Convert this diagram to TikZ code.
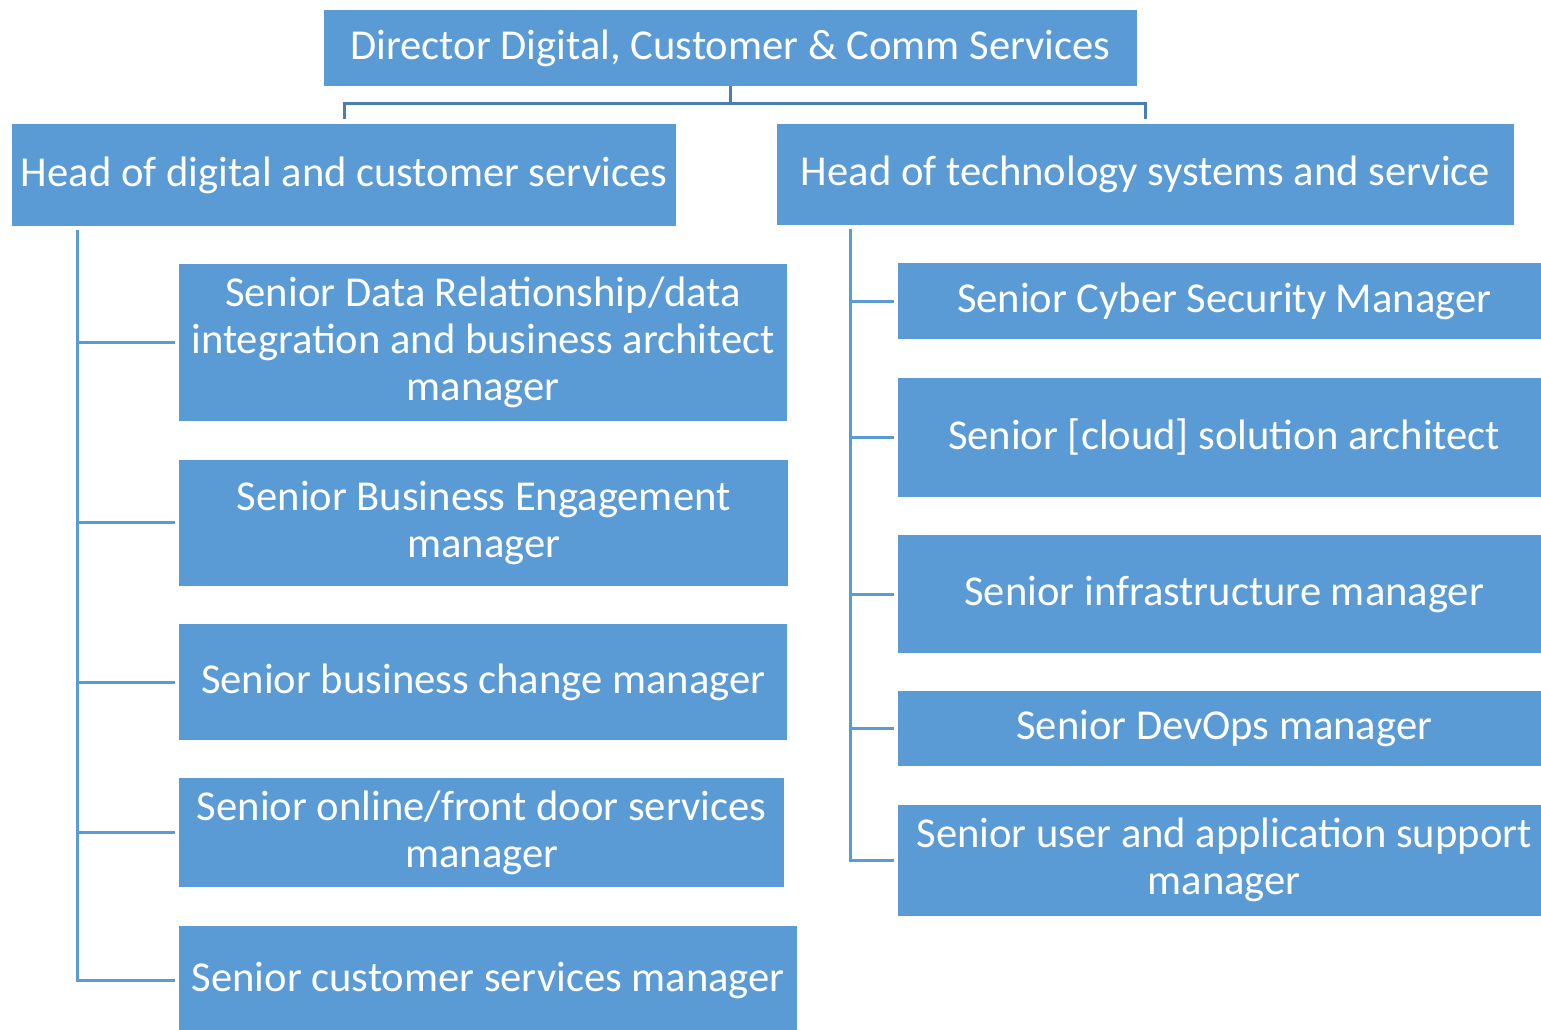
\documentclass[tikz,border=0pt]{standalone}
\usepackage{fontspec}
\setmainfont{Carlito}
\usetikzlibrary{positioning}
\definecolor{boxblue}{HTML}{5B9BD5}
\definecolor{linkblue}{HTML}{4A7DB0}

\begin{document}
\begin{tikzpicture}[x=1pt, y=-1pt, node distance={38pt},
    box/.style = {rectangle, fill=boxblue, text=white, align=center, inner sep=0pt, font=\fontsize{42.6}{47}\selectfont},
    lkid/.style = {box, minimum width=608pt, anchor=north west},
    rkid/.style = {box, minimum width=652pt, anchor=north west},
    topline/.style = {draw=linkblue, line width=3pt},
    treeline/.style = {draw=boxblue, line width=3pt}]
            \useasboundingbox (0,0) rectangle (1541,1030);

            % Nodes
            \node[box, minimum width=813pt, minimum height=76pt] (dir) at (730.5,48) {Director Digital, Customer \& Comm Services};
            \node[box, minimum width=664pt, minimum height=102pt] (hl) at (344,175) {Head of digital and customer services};
            \node[box, minimum width=737pt, minimum height=101pt] (hr) at (1145.5,174.5) {Head of technology systems and service};

            \node[lkid, minimum height=157pt] (l1) at (179,264) {Senior Data Relationship/data\\integration and business architect\\manager};
            \node[lkid, minimum height=126pt, minimum width=609pt] (l2) [below=of l1.south west, anchor=north west] {Senior Business Engagement\\manager};
            \node[lkid, minimum height=116pt] (l3) [below=of l2.south west, anchor=north west] {Senior business change manager};
            \node[lkid, minimum height=109pt, minimum width=605pt] (l4) [below=of l3.south west, anchor=north west] {Senior online/front door services\\manager};
            \node[lkid, minimum height=110pt, minimum width=618pt] (l5) [below=of l4.south west, anchor=north west] {Senior customer services manager};

            \node[rkid, minimum height=76pt] (r1) at (898,263) {Senior Cyber Security Manager};
            \node[rkid, minimum height=119pt] (r2) [below=of r1.south west, anchor=north west] {Senior [cloud] solution architect};
            \node[rkid, minimum height=118pt] (r3) [below=of r2.south west, anchor=north west] {Senior infrastructure manager};
            \node[rkid, minimum height=75pt] (r4) [below=of r3.south west, anchor=north west] {Senior DevOps manager};
            \node[rkid, minimum height=111pt] (r5) [below=of r4.south west, anchor=north west] {Senior user and application support\\manager};

            % Lines
            \coordinate (split) at ([yshift=-17pt]dir.south);
            \coordinate (ltop) at (77,230);
            \coordinate (rtop) at (850,229);
            \draw[topline] (dir.south) -- (split);
            \draw[topline] ([yshift=5pt]hl.north) |- (split) -| ([yshift=5pt]hr.north);

            \draw[treeline] (ltop) |- ([xshift=-4pt]l5.west);
            \foreach \n in {1,...,4}
                \draw[treeline] (ltop |- l\n.west) -- ([xshift=-4pt]l\n.west);
            \draw[treeline] (rtop) |- ([xshift=-4pt]r5.west);
            \foreach \n in {1,...,4}
                \draw[treeline] (rtop |- r\n.west) -- ([xshift=-4pt]r\n.west);
\end{tikzpicture}
\end{document}
